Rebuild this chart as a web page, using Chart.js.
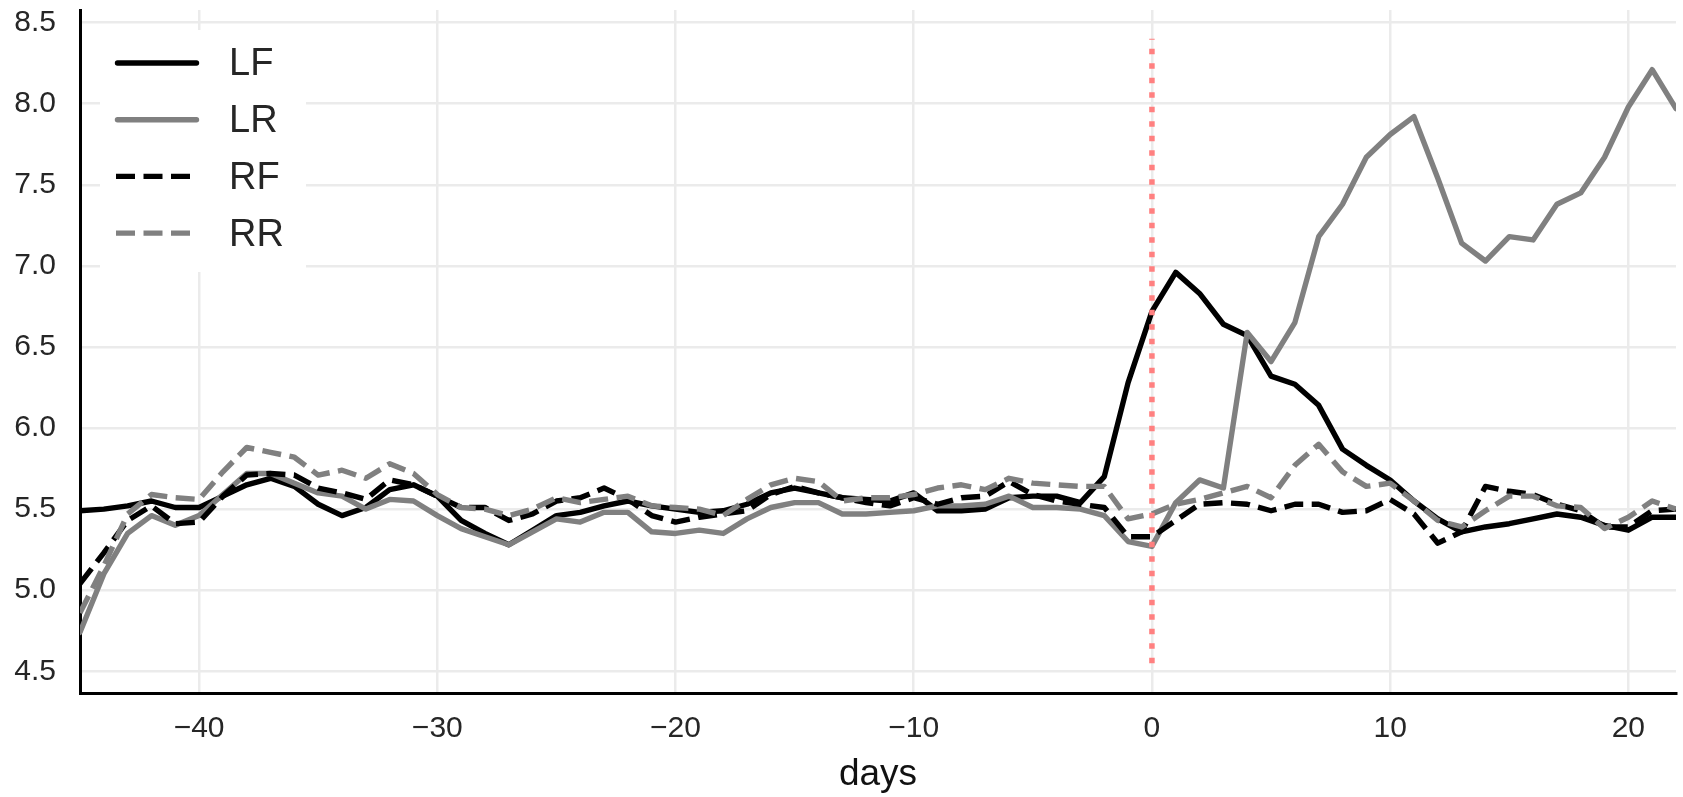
<!DOCTYPE html>
<html>
<head>
<meta charset="utf-8">
<script src="https://cdn.jsdelivr.net/npm/chart.js@4.4.0/dist/chart.umd.min.js"></script>
<style>
  html, body { margin: 0; padding: 0; background: #fff; }
</style>
</head>
<body>
<canvas id="myChart" width="1683" height="797"></canvas>
<script>
// days relative to event
var days = [-45, -44, -43, -42, -41, -40, -39, -38, -37, -36, -35, -34, -33, -32, -31, -30, -29, -28, -27, -26, -25,
  -24, -23, -22, -21, -20, -19, -18, -17, -16, -15, -14, -13, -12, -11, -10, -9, -8, -7, -6, -5, -4, -3,
  -2, -1, 0, 1, 2, 3, 4, 5, 6, 7, 8, 9, 10, 11, 12, 13, 14, 15, 16, 17, 18, 19, 20, 21, 22];

var LF = [5.49, 5.50, 5.52, 5.55, 5.51, 5.51, 5.58, 5.65, 5.69, 5.64, 5.53, 5.46, 5.51, 5.62, 5.65, 5.58, 5.43, 5.35, 5.28, 5.37, 5.46,
  5.48, 5.52, 5.55, 5.52, 5.50, 5.48, 5.49, 5.53, 5.60, 5.63, 5.60, 5.57, 5.56, 5.55, 5.60, 5.49, 5.49, 5.50, 5.57, 5.58, 5.58, 5.54,
  5.70, 6.28, 6.72, 6.96, 6.83, 6.64, 6.57, 6.32, 6.27, 6.14, 5.87, 5.77, 5.68, 5.55, 5.44, 5.36, 5.39, 5.41, 5.44, 5.47, 5.45, 5.40, 5.37, 5.45, 5.45];

var LR = [4.74, 5.10, 5.35, 5.46, 5.40, 5.46, 5.59, 5.72, 5.72, 5.66, 5.60, 5.58, 5.50, 5.56, 5.55, 5.46, 5.38, 5.33, 5.28, 5.36, 5.44,
  5.42, 5.48, 5.48, 5.36, 5.35, 5.37, 5.35, 5.44, 5.51, 5.54, 5.54, 5.47, 5.47, 5.48, 5.49, 5.52, 5.52, 5.53, 5.58, 5.51, 5.51, 5.50,
  5.46, 5.30, 5.27, 5.54, 5.68, 5.63, 6.59, 6.41, 6.65, 7.18, 7.38, 7.67, 7.81, 7.92, 7.54, 7.14, 7.03, 7.18, 7.16, 7.38, 7.45, 7.67, 7.98, 8.21, 7.97];

var RF = [5.04, 5.23, 5.43, 5.52, 5.41, 5.42, 5.58, 5.71, 5.72, 5.71, 5.63, 5.60, 5.56, 5.68, 5.65, 5.58, 5.51, 5.51, 5.43, 5.47, 5.55,
  5.57, 5.63, 5.56, 5.46, 5.42, 5.45, 5.47, 5.49, 5.59, 5.64, 5.60, 5.57, 5.54, 5.52, 5.57, 5.53, 5.57, 5.58, 5.67, 5.59, 5.55, 5.53,
  5.51, 5.33, 5.33, 5.43, 5.53, 5.54, 5.53, 5.49, 5.53, 5.53, 5.48, 5.49, 5.56, 5.47, 5.29, 5.36, 5.64, 5.61, 5.59, 5.53, 5.49, 5.39, 5.39, 5.49, 5.50];

var RR = [4.86, 5.15, 5.47, 5.59, 5.57, 5.56, 5.73, 5.88, 5.85, 5.82, 5.71, 5.74, 5.69, 5.78, 5.72, 5.59, 5.51, 5.50, 5.46, 5.50, 5.57,
  5.54, 5.56, 5.58, 5.52, 5.51, 5.50, 5.46, 5.56, 5.65, 5.69, 5.67, 5.55, 5.57, 5.57, 5.59, 5.63, 5.65, 5.62, 5.69, 5.66, 5.65, 5.64,
  5.64, 5.44, 5.47, 5.53, 5.56, 5.60, 5.64, 5.57, 5.77, 5.90, 5.73, 5.64, 5.66, 5.55, 5.43, 5.39, 5.49, 5.58, 5.58, 5.52, 5.51, 5.38, 5.45, 5.55, 5.50];

// event marker at day 0
var eventDay = 0;
var eventRange = [4.55, 8.4];

var xTicks = [-40, -30, -20, -10, 0, 10, 20];
var yTicks = [4.5, 5.0, 5.5, 6.0, 6.5, 7.0, 7.5, 8.0, 8.5];

var FONT = "'Liberation Sans', Arial, sans-serif";
var TEXT = '#262626';
var LW = 5.4;

function pts(vals) {
  return days.map(function (d, i) { return { x: d, y: vals[i] }; });
}

function series(label, vals, color, dash, order) {
  return {
    label: label,
    data: pts(vals),
    borderColor: color,
    backgroundColor: color,
    borderWidth: LW,
    borderDash: dash,
    borderJoinStyle: 'round',
    borderCapStyle: dash.length ? 'butt' : 'round',
    pointRadius: 0,
    tension: 0,
    fill: false,
    order: order
  };
}

var datasets = [
  series('LF', LF, '#000000', [], 5),
  series('LR', LR, '#808080', [], 4),
  series('RF', RF, '#000000', [19, 8.5], 3),
  series('RR', RR, '#808080', [19, 8.5], 2),
  {
    label: 'event',
    data: [{ x: eventDay, y: eventRange[0] }, { x: eventDay, y: eventRange[1] }],
    borderColor: '#ff8080',
    borderWidth: 5.5,
    borderDash: [5.5, 9],
    borderCapStyle: 'butt',
    pointRadius: 0,
    fill: false,
    order: 1
  }
];

// legend in the upper left corner, white box like the original
var cornerLegend = {
  id: 'cornerLegend',
  afterDatasetsDraw: function (chart) {
    var ctx = chart.ctx;
    var a = chart.chartArea;
    ctx.save();
    ctx.fillStyle = '#ffffff';
    ctx.fillRect(a.left + 20, a.top + 20, 206, 242);
    ctx.font = '38px ' + FONT;
    ctx.textBaseline = 'middle';
    ctx.textAlign = 'left';
    for (var i = 0; i < 4; i++) {
      var ds = chart.data.datasets[i];
      var y = a.top + 53 + i * 56.7;
      var solid = ds.borderDash.length === 0;
      ctx.beginPath();
      ctx.setLineDash(ds.borderDash);
      ctx.lineCap = ds.borderCapStyle;
      ctx.lineWidth = ds.borderWidth;
      ctx.strokeStyle = ds.borderColor;
      ctx.moveTo(a.left + (solid ? 37.5 : 36), y);
      ctx.lineTo(a.left + (solid ? 116.5 : 118), y);
      ctx.stroke();
      ctx.setLineDash([]);
      ctx.fillStyle = TEXT;
      ctx.fillText(ds.label, a.left + 149, y + 2);
    }
    ctx.restore();
  }
};

var ctx = document.getElementById('myChart');

var myChart = new Chart(ctx, {
  type: 'line',
  data: { datasets: datasets },
  plugins: [cornerLegend],
  options: {
    responsive: false,
    animation: false,
    devicePixelRatio: 1,
    layout: { padding: { top: 10, right: 7, left: 0, bottom: 0 } },
    plugins: {
      legend: { display: false },
      tooltip: { enabled: false }
    },
    scales: {
      x: {
        type: 'linear',
        min: -45,
        max: 22,
        afterBuildTicks: function (scale) {
          scale.ticks = xTicks.map(function (v) { return { value: v }; });
        },
        afterFit: function (scale) {
          scale.height = 104;
          scale.paddingLeft = 0;
          scale.paddingRight = 0;
        },
        grid: { color: '#ebebeb', lineWidth: 2.5, drawTicks: false },
        border: { color: '#000', width: 3 },
        ticks: {
          padding: 18,
          color: TEXT,
          font: { size: 30, family: FONT },
          maxRotation: 0,
          callback: function (v) { return v < 0 ? '\u2212' + Math.abs(v) : String(v); }
        },
        title: {
          display: true,
          text: 'days',
          color: '#111',
          font: { size: 37, family: FONT },
          padding: { top: 0, bottom: 0 }
        }
      },
      y: {
        min: 4.366,
        max: 8.578,
        afterBuildTicks: function (scale) {
          scale.ticks = yTicks.map(function (v) { return { value: v }; });
        },
        afterFit: function (scale) {
          scale.width = 80;
          scale.paddingTop = 0;
          scale.paddingBottom = 0;
        },
        grid: { color: '#ebebeb', lineWidth: 2.5, drawTicks: false },
        border: { color: '#000', width: 3 },
        ticks: {
          padding: 24,
          color: TEXT,
          font: { size: 30, family: FONT },
          callback: function (v) { return v.toFixed(1); }
        }
      }
    }
  }
});
</script>
</body>
</html>
